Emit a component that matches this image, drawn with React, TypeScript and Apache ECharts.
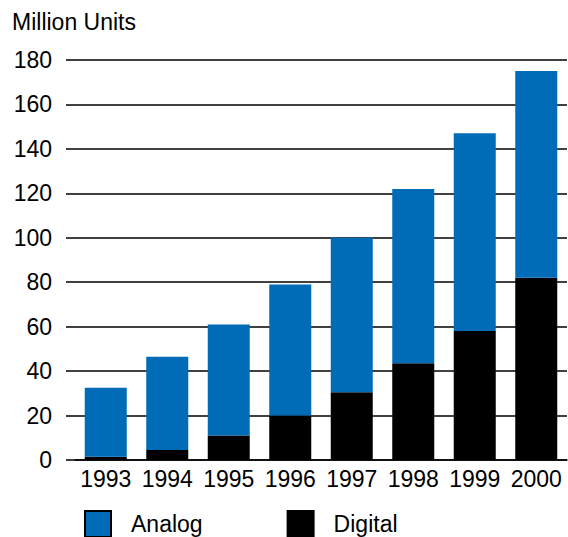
import React, { useEffect, useRef } from "react";
import * as echarts from "echarts";

const years = ["1993", "1994", "1995", "1996", "1997", "1998", "1999", "2000"];
const digital = [1.5, 4.5, 11, 20, 30.5, 43.5, 58, 82];
const analog = [31, 42, 50, 59, 69.5, 78.5, 89, 93];
const yTicks = { min: 0, max: 180, interval: 20 };

const BLUE = "#006cb8";
const FONT = "'Liberation Sans', Arial, Helvetica, sans-serif";
const SIZE = 23;

export default function App() {
  const ref = useRef<HTMLDivElement>(null);

  useEffect(() => {
    if (!ref.current) return;
    const chart = echarts.init(ref.current, undefined, { renderer: "svg" });
    chart.setOption({
      animation: false,
      backgroundColor: "#ffffff",
      textStyle: { fontFamily: FONT, color: "#000" },
      title: {
        text: "Million Units",
        left: 12,
        top: 10,
        padding: 0,
        textStyle: { fontFamily: FONT, fontSize: SIZE, fontWeight: "normal", color: "#000" },
      },
      legend: {
        left: 84,
        top: 510,
        padding: 0,
        itemWidth: 26,
        itemHeight: 26,
        itemGap: 84,
        icon: "rect",
        textStyle: {
          fontFamily: FONT,
          fontSize: SIZE,
          color: "#000",
          padding: [0, 0, 0, 15],
        },
        data: [
          { name: "Analog", itemStyle: { color: BLUE, borderColor: "#000", borderWidth: 2 } },
          { name: "Digital", itemStyle: { color: "#000", borderColor: "#000", borderWidth: 2 } },
        ],
      },
      grid: { left: 75, right: 1, top: 60, bottom: 77, containLabel: false },
      xAxis: {
        type: "category",
        data: years,
        axisLine: { show: true, lineStyle: { color: "#000", width: 1.5 } },
        axisTick: { show: false },
        axisLabel: {
          interval: 0,
          hideOverlap: false,
          fontFamily: FONT,
          fontSize: SIZE,
          color: "#000",
          margin: 7,
        },
      },
      yAxis: {
        type: "value",
        min: yTicks.min,
        max: yTicks.max,
        interval: yTicks.interval,
        axisLine: { show: false },
        axisTick: { show: true, length: 9, lineStyle: { color: "#000", width: 1.5 } },
        splitLine: { show: true, lineStyle: { color: "#000", width: 1.5 } },
        axisLabel: { fontFamily: FONT, fontSize: SIZE, color: "#000", margin: 23 },
      },
      series: [
        {
          name: "Digital",
          type: "bar",
          stack: "units",
          data: digital,
          barWidth: 42,
          itemStyle: { color: "#000" },
        },
        {
          name: "Analog",
          type: "bar",
          stack: "units",
          data: analog,
          barWidth: 42,
          itemStyle: { color: BLUE },
        },
      ],
    });
    return () => chart.dispose();
  }, []);

  return (
    <div
      ref={ref}
      style={{ position: "fixed", left: 0, top: 0, width: 568, height: 537 }}
    />
  );
}
